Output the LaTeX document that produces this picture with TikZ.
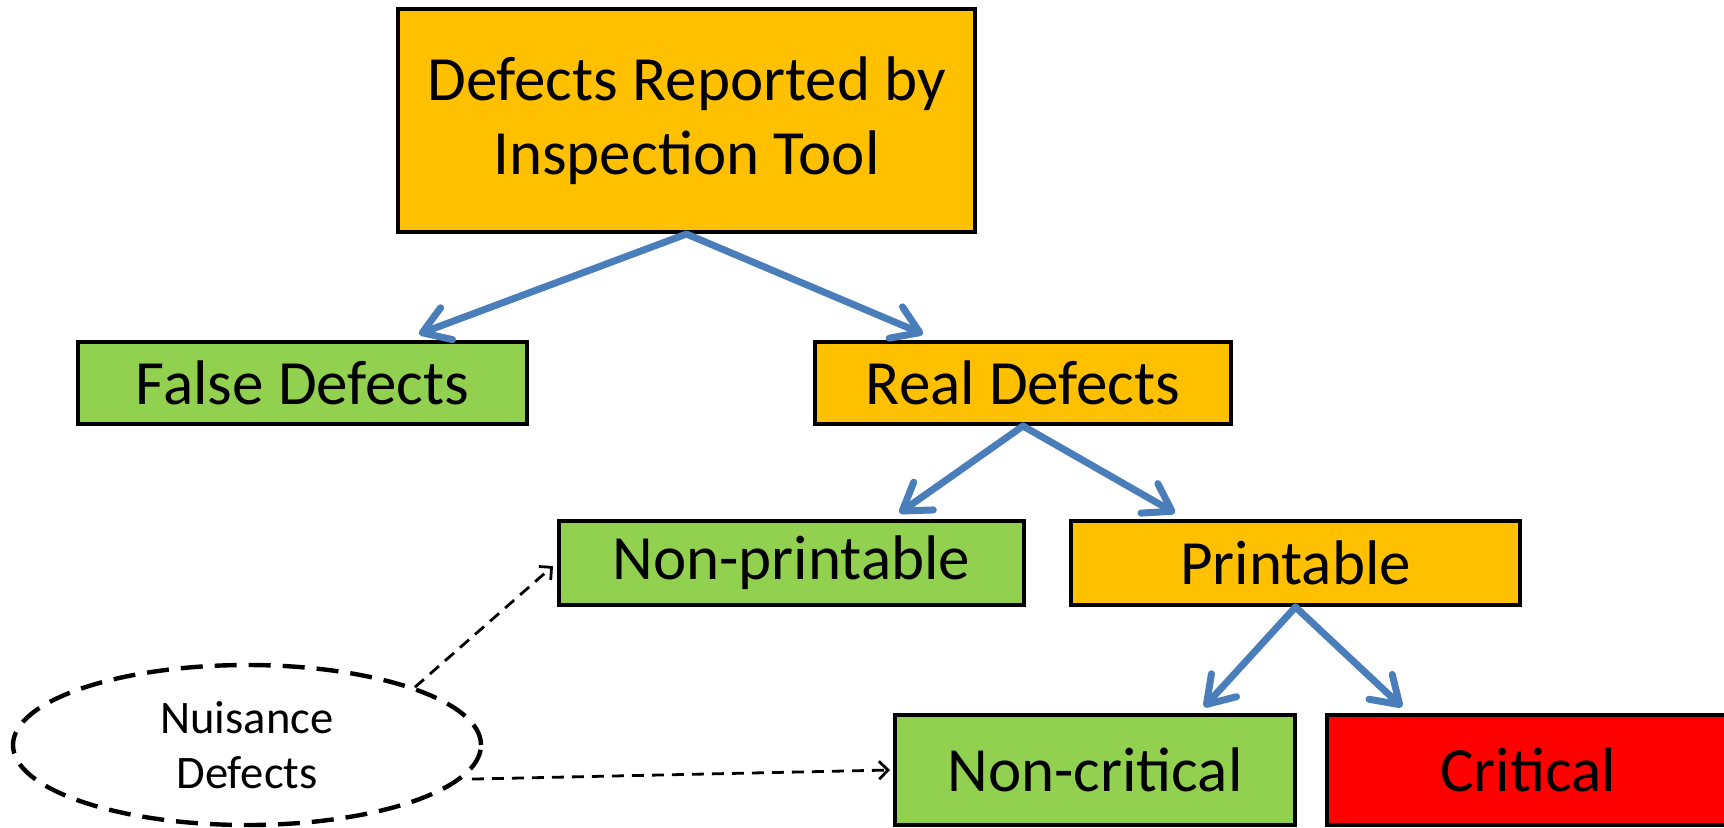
\documentclass[tikz,border=0pt]{standalone}
\usepackage{fontspec}
\setmainfont{Carlito}
\usetikzlibrary{arrows.meta,calc,shapes.geometric}
\definecolor{boxorange}{RGB}{255,192,0}
\definecolor{boxgreen}{RGB}{146,208,80}
\definecolor{boxred}{RGB}{255,0,0}
\definecolor{flowblue}{RGB}{74,126,187}
\tikzset{
  box/.style={draw=black, line width=2pt, inner sep=0pt, align=center,
    font=\fontsize{31.5}{37}\selectfont},
  flow/.style={draw=flowblue, line width=3.5pt, line cap=round,
    -{Straight Barb[length=13pt,width=17pt,line cap=round,line join=round]}},
  hint/.style={draw=black, line width=1.4pt, dash pattern=on 6pt off 4pt,
    -{Straight Barb[length=4.5pt,width=9pt]}},
  cloud/.style={ellipse, draw=black, line width=2.2pt,
    dash pattern=on 11pt off 6pt, inner sep=0pt, align=center,
    font=\fontsize{23.3}{27.5}\selectfont}
}
\begin{document}
\begin{tikzpicture}[x=0.5pt,y=-0.5pt]
\useasboundingbox (0,0) rectangle (1724,827);
\clip (0,0) rectangle (1724,827);

% category boxes
\node[box, fill=boxorange, minimum width=288.5pt, minimum height=111.5pt] (top) at (686.5,120.5) {Defects Reported by\\Inspection Tool};
\node[box, fill=boxgreen, minimum width=224.5pt, minimum height=41pt] (false) at (302.5,383) {False Defects};
\node[box, fill=boxorange, minimum width=208pt, minimum height=41pt] (real) at (1023,383) {Real Defects};
\node[box, fill=boxgreen, minimum width=232.5pt, minimum height=42pt] (np) at (791.5,563) {Non-printable};
\node[box, fill=boxorange, minimum width=224.5pt, minimum height=42pt] (pr) at (1295.5,563) {Printable};
\node[box, fill=boxgreen, minimum width=200pt, minimum height=55pt] (nc) at (1095,770) {Non-critical};
\node[box, fill=boxred, minimum width=201pt, minimum height=55pt] (cr) at (1528,770) {Critical};

% nuisance group
\node[cloud, minimum width=234pt, minimum height=80pt] (nuis) at (247,745) {Nuisance\\Defects};

% classification arrows
\draw[flow] (top.south) -- ($(false.north west)!0.757!(false.north east)+(0,-6)$);
\draw[flow] (top.south) -- ($(real.north west)!0.262!(real.north east)+(0,-6)$);
\draw[flow] (real.south) -- ($(np.north west)!0.73!(np.north east)+(0,-6)$);
\draw[flow] (real.south) -- ($(pr.north west)!0.234!(pr.north east)+(0,-6)$);
\draw[flow] (pr.south) -- ($(nc.north west)!0.77!(nc.north east)+(0,-6)$);
\draw[flow] (pr.south) -- ($(cr.north west)!0.19!(cr.north east)+(0,-6)$);

% nuisance links
\draw[hint] (nuis.19) -- ($(np.west)+(-4,3)$);
\draw[hint] ($(nuis.-9)+(10,0)$) -- ($(nc.west)+(-3,0)$);
\end{tikzpicture}
\end{document}
